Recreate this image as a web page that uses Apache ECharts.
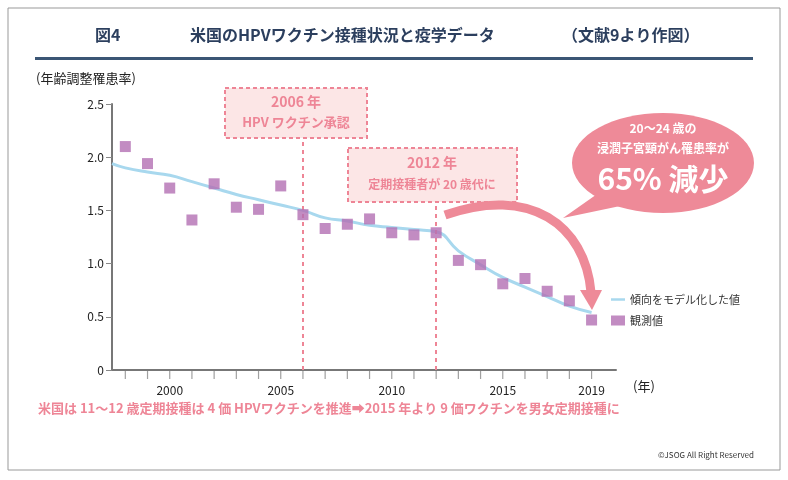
<!DOCTYPE html>
<html><head><meta charset="utf-8">
<script src="https://cdn.jsdelivr.net/npm/echarts@6/dist/echarts.min.js"></script>
<style>html,body{margin:0;background:#fff}#main{width:788px;height:480px}</style>
</head><body><div id="main"></div>
<script>
// observed values (age adjusted incidence)
const obsYears = [1998,1999,2000,2001,2002,2003,2004,2005,2006,2007,2008,2009,2010,2011,2012,2013,2014,2015,2016,2017,2018,2019];
const obsValues = [2.10,1.94,1.71,1.41,1.75,1.53,1.51,1.73,1.46,1.33,1.37,1.42,1.29,1.27,1.29,1.03,0.99,0.81,0.86,0.74,0.65,0.47];
const trendYears = [1997.4,1998,1999,2000,2001,2002,2003,2004,2005,2006,2007,2008,2009,2010,2011,2012,2013,2014,2015,2016,2017,2018,2019];
const trendValues = [1.94,1.90,1.86,1.83,1.77,1.71,1.65,1.60,1.55,1.50,1.43,1.40,1.36,1.34,1.32,1.30,1.12,0.99,0.87,0.78,0.69,0.60,0.54];
const tickYears = [1998,1999,2000,2001,2002,2003,2004,2005,2006,2007,2008,2009,2010,2011,2012,2013,2014,2015,2016,2017,2018,2019];
const labelYears = [2000,2005,2010,2015,2019];

const pink = "#ee8596";
const font = "'Noto Sans CJK JP', sans-serif";
const chart = echarts.init(document.getElementById("main"));
chart.setOption({
  animation: false,
  textStyle: { fontFamily: font },
  grid: { left: 112, right: 172, top: 104, bottom: 110 },
  xAxis: {
    type: "value", min: 1997.4, max: 2020.1,
    axisLine: { lineStyle: { color: "#777", width: 2 } },
    axisTick: { show: false },
    axisLabel: { customValues: labelYears, color: "#222", fontSize: 12, margin: 14, formatter: v => String(v) },
    splitLine: { show: false }
  },
  yAxis: {
    type: "value", min: 0, max: 2.5, interval: 0.5,
    axisLine: { show: true, lineStyle: { color: "#777", width: 2 } },
    axisTick: { show: true, length: 6, lineStyle: { color: "#888" } },
    axisLabel: { color: "#222", fontSize: 12, formatter: v => v === 0 ? "0" : v.toFixed(1) },
    splitLine: { show: false }
  },
  legend: {
    left: 606, top: 289, orient: "vertical", itemGap: 10, itemWidth: 14, itemHeight: 10,
    textStyle: { fontSize: 11, color: "#333", fontFamily: font },
    data: [{ name: "傾向をモデル化した値", icon: "path://M0,4L14,4L14,6.5L0,6.5Z", itemStyle: { color: "#a8d8ee" } },
           { name: "観測値", icon: "rect" }]
  },
  series: [
    {
      name: "傾向をモデル化した値", type: "line", smooth: true, symbol: "none",
      data: trendYears.map((y, i) => [y, trendValues[i]]),
      lineStyle: { color: "#a8d8ee", width: 3 }, itemStyle: { color: "#a8d8ee" },
      markLine: {
        symbol: "none", silent: true, label: { show: false },
        lineStyle: { color: pink, type: [4, 4], width: 2 },
        data: [[{ coord: [2006, 0] }, { coord: [2006, 2.18] }],
               [{ coord: [2012, 0] }, { coord: [2012, 1.58] }]]
      }
    },
    {
      name: "観測値", type: "scatter", symbol: "rect", symbolSize: 11, z: 5,
      data: obsYears.map((y, i) => [y, obsValues[i]]),
      itemStyle: { color: "#b36fb3" }
    },
    {
      // year ticks under the x axis
      name: "ticks", type: "scatter", symbol: "rect", symbolSize: [1.2, 8], symbolOffset: [0, 5],
      clip: false, silent: true, z: 1,
      data: tickYears.map(y => [y, 0]),
      itemStyle: { color: "#888" }
    }
  ],
  graphic: [
    { type: "rect", shape: { x: 8, y: 8, width: 772, height: 462 }, style: { fill: null, stroke: "#999", lineWidth: 1 } },
    { type: "text", left: 95, top: 27, style: { text: "図4", font: "bold 16px " + font, fill: "#2c3f5e" } },
    { type: "text", left: 190, top: 27, style: { text: "米国のHPVワクチン接種状況と疫学データ", font: "bold 16px " + font, fill: "#2c3f5e" } },
    { type: "text", left: 562, top: 27, style: { text: "（文献9より作図）", font: "bold 16px " + font, fill: "#2c3f5e" } },
    { type: "rect", shape: { x: 35, y: 57, width: 718, height: 3 }, style: { fill: "#3b5675" } },
    { type: "text", left: 36, top: 72, style: { text: "(年齢調整罹患率)", font: "13px " + font, fill: "#222" } },
    { type: "text", left: 633, top: 380, style: { text: "(年)", font: "13px " + font, fill: "#222" } },
    // annotation boxes
    { type: "rect", shape: { x: 225, y: 88, width: 142, height: 50 }, style: { fill: "#fce6e6", stroke: pink, lineWidth: 2, lineDash: [4, 3] } },
    { type: "text", style: { x: 296, y: 102, text: "2006 年", align: "center", verticalAlign: "middle", font: "bold 14px " + font, fill: pink } },
    { type: "text", style: { x: 296, y: 122, text: "HPV ワクチン承認", align: "center", verticalAlign: "middle", font: "bold 13px " + font, fill: pink } },
    { type: "rect", shape: { x: 348, y: 148, width: 169, height: 54 }, style: { fill: "#fce6e6", stroke: pink, lineWidth: 2, lineDash: [4, 3] } },
    { type: "text", style: { x: 432, y: 163, text: "2012 年", align: "center", verticalAlign: "middle", font: "bold 14px " + font, fill: pink } },
    { type: "text", style: { x: 432, y: 184, text: "定期接種者が 20 歳代に", align: "center", verticalAlign: "middle", font: "bold 12px " + font, fill: pink } },
    // speech bubble
    { type: "polygon", shape: { points: [[600, 192], [563, 218], [625, 205]] }, style: { fill: "#ee8a98" } },
    { type: "ellipse", shape: { cx: 663, cy: 163, rx: 91, ry: 50 }, style: { fill: "#ee8a98" } },
    { type: "text", style: { x: 663, y: 128, text: "20〜24 歳の", align: "center", verticalAlign: "middle", font: "bold 12px " + font, fill: "#fff" } },
    { type: "text", style: { x: 663, y: 148, text: "浸潤子宮頸がん罹患率が", align: "center", verticalAlign: "middle", font: "bold 12px " + font, fill: "#fff" } },
    { type: "text", style: { x: 663, y: 179, text: "65% 減少", align: "center", verticalAlign: "middle", font: "bold 30px " + font, fill: "#fff" } },
    // curved arrow
    { type: "bezierCurve", shape: { x1: 445, y1: 215, cpx1: 530, cpy1: 185, cpx2: 585, cpy2: 225, x2: 591, y2: 292 }, style: { stroke: "#ee8a98", lineWidth: 9, fill: null } },
    { type: "polygon", shape: { points: [[580, 290], [602, 290], [592, 310]] }, style: { fill: "#ee8a98" } },
    // footer
    { type: "text", left: 38, top: 402, style: { text: "米国は 11〜12 歳定期接種は 4 価 HPVワクチンを推進➡2015 年より 9 価ワクチンを男女定期接種に", font: "bold 13px " + font, fill: pink } },
    { type: "text", right: 34, top: 451, style: { text: "©JSOG All Right Reserved", font: "8px " + font, fill: "#333" } }
  ]
});
</script></body></html>
